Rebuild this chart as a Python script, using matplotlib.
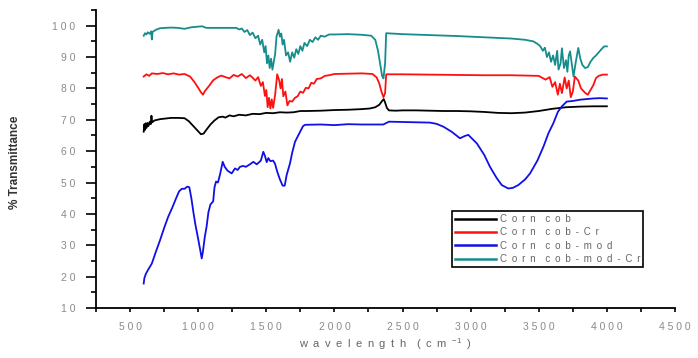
import matplotlib
matplotlib.use('Agg')
import matplotlib.pyplot as plt
from matplotlib.ticker import MultipleLocator, FixedLocator

plt.rcParams['font.family'] = ['Liberation Sans', 'DejaVu Sans']
plt.rcParams['mathtext.fontset'] = 'custom'
plt.rcParams['mathtext.rm'] = 'Liberation Sans'

#Corn cob
cc_x = [600, 605, 610, 615, 620, 628, 635, 645, 652, 657, 662, 680, 720, 760, 800, 850, 900, 930, 960, 990,
        1020, 1040, 1060, 1090, 1120, 1150, 1180, 1200, 1230, 1260, 1300, 1350, 1400, 1450, 1500, 1550, 1600,
        1650, 1700, 1750, 1800, 1900, 2000, 2100, 2200, 2260, 2300, 2330, 2350, 2362, 2372, 2385, 2400, 2450,
        2500, 2600, 2700, 2800, 2900, 3000, 3100, 3200, 3300, 3400, 3500, 3600, 3700, 3800, 3900, 4000]
cc_y = [66.2, 68.6, 66.8, 68.9, 67.4, 69.0, 68.0, 69.4, 68.6, 71.3, 69.2, 69.8, 70.2, 70.4, 70.6, 70.6, 70.5, 69.6, 68.2, 66.8,
        65.4, 65.6, 66.8, 68.5, 69.8, 70.8, 71.0, 70.7, 71.4, 71.1, 71.6, 71.4, 71.9, 71.8, 72.2, 72.1, 72.4,
        72.3, 72.4, 72.8, 72.8, 72.9, 73.1, 73.2, 73.4, 73.6, 74.0, 74.8, 76.0, 76.6, 75.5, 73.8, 73.0, 72.9,
        73.0, 73.0, 72.9, 72.8, 72.8, 72.7, 72.5, 72.2, 72.1, 72.3, 72.8, 73.5, 74.0, 74.2, 74.3, 74.3]

#Corn cob-Cr
cr_x = [600, 620, 640, 660, 700, 740, 780, 820, 860, 900, 940, 970, 1000, 1020, 1035, 1050, 1080, 1110, 1140, 1170,
        1200, 1230, 1260, 1290, 1320, 1350, 1380, 1400, 1420, 1440, 1460, 1475, 1490, 1500, 1510, 1520, 1530, 1540,
        1550, 1565, 1580, 1595, 1605, 1615, 1625, 1640, 1655, 1670, 1690, 1710, 1730, 1750, 1770, 1790, 1810, 1830,
        1850, 1870, 1900, 1930, 1960, 2000, 2100, 2200, 2280, 2310, 2330, 2345, 2360, 2372, 2380, 2500, 2700, 2900,
        3100, 3300, 3500, 3550, 3580, 3600, 3620, 3640, 3655, 3670, 3690, 3705, 3720, 3735, 3750, 3765, 3790, 3810,
        3840, 3860, 3880, 3900, 3920, 3940, 3970, 4000]
cr_y = [83.8, 84.5, 84.0, 84.8, 84.6, 84.9, 84.5, 84.8, 84.4, 84.6, 83.8, 82.2, 80.2, 78.8, 78.0, 79.2, 80.8, 82.6, 83.5, 84.1,
        83.6, 83.2, 84.3, 83.8, 84.6, 83.3, 84.2, 83.4, 82.5, 83.6, 80.8, 82.0, 77.6, 79.5, 74.0, 77.0, 73.6, 76.5,
        73.8, 78.0, 84.5, 82.5, 80.0, 83.0, 77.5, 79.0, 74.6, 76.0, 75.8, 77.0, 77.5, 79.0, 78.6, 80.2, 80.0, 81.8,
        81.5, 83.0, 83.2, 84.0, 84.2, 84.6, 84.7, 84.8, 84.6, 83.5, 81.5, 79.0, 77.2, 78.5, 84.5, 84.5, 84.4, 84.3,
        84.2, 84.2, 84.0, 82.8, 83.6, 80.5, 82.0, 78.0, 81.5, 78.5, 83.5, 80.0, 82.5, 77.2, 79.0, 83.8, 82.5, 80.0,
        78.6, 78.0, 79.5, 81.0, 83.3, 84.0, 84.4, 84.4]

#Corn cob-mod
md_x = [600, 605, 615, 630, 660, 690, 720, 750, 780, 810, 840, 860, 880, 900, 920, 935, 950, 965, 980, 1000,
        1015, 1026, 1035, 1048, 1062, 1075, 1090, 1110, 1120, 1131, 1145, 1160, 1180, 1195, 1215, 1246, 1270, 1290,
        1307, 1330, 1350, 1380, 1405, 1430, 1460, 1478, 1490, 1503, 1515, 1530, 1550, 1564, 1580, 1600, 1620, 1635,
        1650, 1674, 1690, 1711, 1740, 1770, 1785, 1900, 2000, 2100, 2200, 2300, 2359, 2400, 2500, 2600, 2702, 2750,
        2800, 2860, 2922, 2955, 2983, 3010, 3045, 3100, 3142, 3190, 3228, 3276, 3310, 3350, 3400, 3436, 3490, 3534,
        3571, 3607, 3640, 3668, 3705, 3750, 3803, 3850, 3900, 3950, 4000]
md_y = [17.8, 19.5, 20.8, 22.0, 24.2, 28.0, 31.6, 35.5, 39.1, 42.0, 45.2, 47.2, 48.0, 48.0, 48.7, 48.5, 45.0, 40.5, 36.5, 32.0,
        28.5, 25.8, 28.0, 32.5, 36.0, 40.5, 43.0, 44.0, 48.5, 50.3, 50.0, 52.5, 56.6, 55.0, 53.8, 52.9, 54.5, 54.0,
        55.0, 55.3, 55.0, 55.8, 56.6, 55.8, 57.0, 59.8, 58.5, 56.5, 57.8, 56.8, 57.0, 56.0, 53.5, 51.0, 49.0, 49.0,
        52.5, 56.1, 59.5, 63.0, 65.5, 68.0, 68.4, 68.5, 68.3, 68.6, 68.5, 68.5, 68.5, 69.4, 69.3, 69.2, 69.1, 68.7,
        67.8, 66.2, 64.1, 64.8, 65.2, 64.0, 62.5, 58.8, 55.0, 51.5, 49.2, 48.1, 48.3, 49.2, 51.0, 52.9, 57.0, 61.4,
        65.7, 68.9, 72.5, 74.2, 75.8, 76.0, 76.4, 76.6, 76.8, 76.9, 76.8]

#Corn cob-mod-Cr
mc_x = [600, 610, 620, 630, 645, 655, 660, 665, 690, 720, 760, 800, 850, 900, 950, 1000, 1030, 1060, 1100, 1200,
        1280, 1300, 1320, 1340, 1360, 1380, 1400, 1420, 1440, 1455, 1470, 1485, 1495, 1505, 1515, 1525, 1535, 1545,
        1555, 1565, 1575, 1590, 1600, 1610, 1620, 1630, 1645, 1660, 1675, 1690, 1705, 1720, 1735, 1750, 1765, 1780,
        1800, 1820, 1840, 1860, 1880, 1900, 1930, 1960, 2000, 2100, 2200, 2270, 2300, 2320, 2335, 2350, 2360, 2372,
        2380, 2500, 2700, 2900, 3100, 3200, 3300, 3400, 3460, 3490, 3510, 3530, 3545, 3560, 3575, 3590, 3605, 3620,
        3635, 3645, 3660, 3670, 3685, 3700, 3710, 3720, 3730, 3745, 3755, 3770, 3790, 3805, 3820, 3840, 3860, 3880,
        3900, 3920, 3940, 3960, 3980, 4000]
mc_y = [96.8, 97.6, 97.2, 97.9, 97.4, 98.2, 95.6, 98.0, 98.7, 99.2, 99.3, 99.4, 99.3, 99.0, 99.5, 99.7, 99.8, 99.3, 99.3, 99.3,
        99.3, 98.8, 99.1, 98.0, 98.6, 97.0, 97.8, 96.0, 96.8, 94.0, 95.5, 91.5, 93.5, 88.0, 90.5, 86.5, 89.5, 86.0,
        88.5, 91.0, 96.5, 98.7, 96.5, 97.5, 94.0, 95.5, 90.5, 91.5, 88.5, 91.5, 89.8, 92.5, 91.0, 93.5, 92.0, 94.5,
        93.5, 95.5, 94.8, 96.3, 95.5, 96.8, 96.5, 97.2, 97.2, 97.3, 97.1, 96.8, 95.5, 92.0, 88.0, 84.0, 83.2, 88.0,
        97.6, 97.3, 97.0, 96.7, 96.3, 96.1, 95.9, 95.5, 95.0, 94.2, 93.5, 92.0, 93.0, 90.0, 91.5, 88.5, 90.5, 87.5,
        92.0, 86.0, 88.0, 92.8, 86.5, 89.0, 85.3, 90.5, 91.8, 87.0, 83.8, 88.0, 92.9, 89.5, 87.5, 86.5, 86.8, 88.5,
        89.7, 90.5, 91.5, 92.5, 93.4, 93.4]

names = ['Corn cob', 'Corn cob-Cr', 'Corn cob-mod', 'Corn cob-mod-Cr']
colors = ['black', '#ff1010', '#1010e6', '#178c8c']

EN = '\u2002'
def spaced(s):
    #spread the letters out like the original software does
    return (EN + EN).join(EN.join(w) for w in s.split(' '))

fig = plt.figure(figsize=(6.98, 3.58), dpi=100)
ax = fig.add_axes([96/698, 50/358, 579/698, 298/358])

lw = 1.3
ax.plot(cc_x, cc_y, color=colors[0], lw=lw, label=spaced(names[0]))
ax.plot(cr_x, cr_y, color=colors[1], lw=lw, label=spaced(names[1]))
ax.plot(md_x, md_y, color=colors[2], lw=lw, label=spaced(names[2]))
ax.plot(mc_x, mc_y, color=colors[3], lw=lw, label=spaced(names[3]))

ax.set_xlim(250, 4500)
ax.set_ylim(10, 105)
ax.spines['top'].set_visible(False)
ax.spines['right'].set_visible(False)
ax.spines['left'].set_linewidth(1.3)
ax.spines['bottom'].set_linewidth(1.3)

xt = list(range(500, 4501, 500))
yt = list(range(10, 101, 10))
ax.xaxis.set_major_locator(FixedLocator(xt))
ax.xaxis.set_minor_locator(MultipleLocator(250))
ax.yaxis.set_major_locator(FixedLocator(yt))
ax.yaxis.set_minor_locator(MultipleLocator(5))
ax.set_xticklabels([' '.join(str(v)) for v in xt])
ax.set_yticklabels([' '.join(str(v)) for v in yt])
ax.tick_params(axis='y', which='major', direction='out', length=7, width=1.2, pad=8, labelsize=7.5, labelcolor='#8a8a8a')
ax.tick_params(axis='y', which='minor', direction='out', length=3.6, width=1.2)
ax.tick_params(axis='x', which='both', direction='out', length=3, width=1.2, pad=7, labelsize=7.5, labelcolor='#8a8a8a')

xlab = spaced('wavelength') + EN + EN + EN.join('(cm') + EN + r'$^{-1}$' + EN + ')'
ax.set_xlabel(xlab, fontsize=8, color='#666666', labelpad=3)
fig.text(15/698, 1 - 162/358, '% Transmittance', rotation=90, fontsize=8.5, fontweight='bold',
         color='#333333', ha='center', va='center')

leg = ax.legend(loc='upper left', bbox_to_anchor=(0.615, 0.325), borderaxespad=0, fancybox=False,
                edgecolor='black', fontsize=7, handlelength=4.2, handletextpad=0.4, labelspacing=0.35,
                borderpad=0.3, framealpha=1)
leg.get_frame().set_linewidth(1.2)
for t in leg.get_texts():
    t.set_color('#666666')
for h in leg.get_lines():
    h.set_linewidth(1.8)

fig.savefig('out.png', dpi=100)
